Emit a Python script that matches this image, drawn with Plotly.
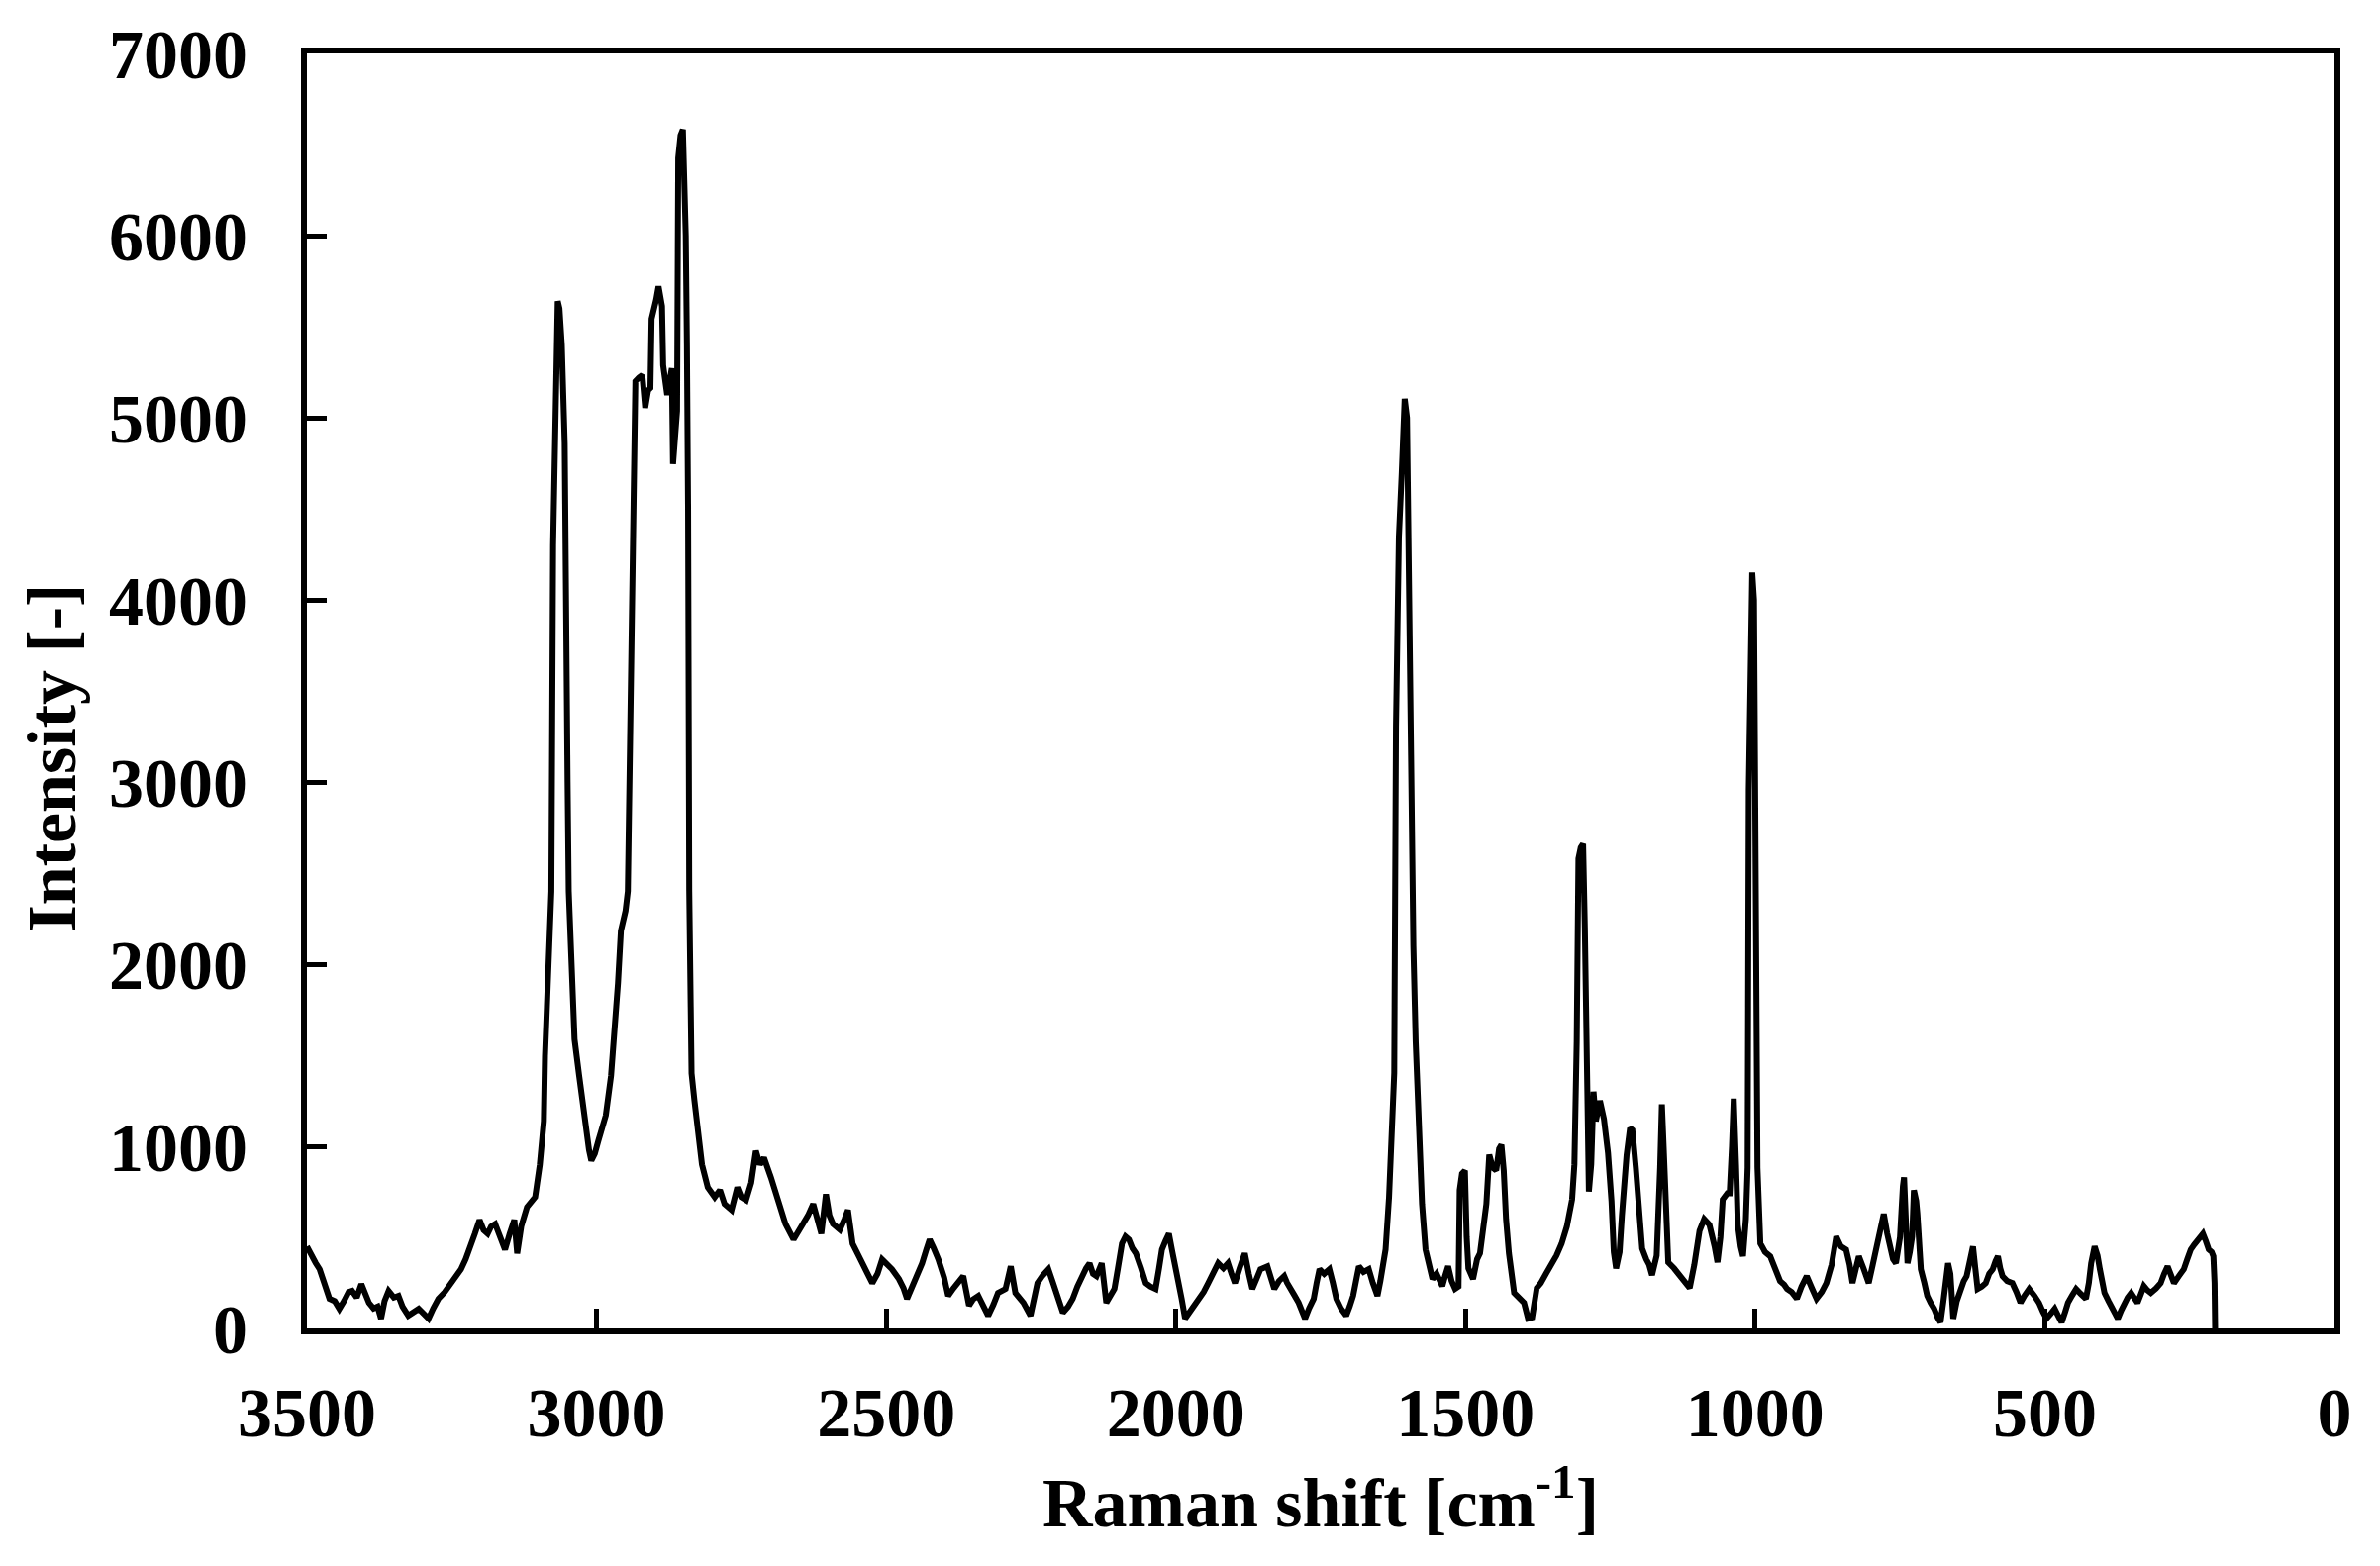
import plotly.graph_objects as go

raman_shift = [
    3500, 3493, 3485, 3478, 3470, 3461, 3452, 3444, 3436, 3428, 3422, 3414, 3406, 3400, 3393, 3385,
    3378, 3372, 3366, 3359, 3350, 3342, 3335, 3325, 3316, 3307, 3298, 3290, 3282, 3273, 3262, 3251,
    3242, 3234, 3226, 3217, 3210, 3202, 3195, 3188, 3182, 3175, 3166, 3158, 3150, 3142, 3137, 3130,
    3120, 3113, 3106, 3098, 3094, 3091, 3089, 3086, 3083, 3080, 3078, 3075, 3071, 3067, 3064, 3060,
    3055, 3052, 3050, 3048, 3043, 3038, 3030, 3023, 3018, 3013, 3009, 3003, 2997, 2990, 2984, 2975,
    2970, 2963, 2958, 2950, 2946, 2942, 2938, 2936, 2933, 2927, 2921, 2916, 2911, 2907, 2905, 2897,
    2893, 2887, 2885, 2878, 2873, 2870, 2868, 2864, 2861, 2859, 2855, 2851, 2846, 2844, 2842, 2840,
    2839, 2836, 2831, 2825, 2818, 2808, 2796, 2787, 2779, 2767, 2757, 2750, 2742, 2733, 2725, 2718,
    2711, 2699, 2689, 2680, 2674, 2660, 2650, 2643, 2635, 2626, 2618, 2612, 2604, 2598, 2592, 2580,
    2572, 2566, 2558, 2550, 2541, 2532, 2524, 2515, 2507, 2498, 2490, 2478, 2470, 2464, 2456, 2450,
    2438, 2431, 2425, 2418, 2410, 2400, 2393, 2384, 2376, 2367, 2357, 2350, 2341, 2333, 2324, 2315,
    2307, 2294, 2285, 2277, 2270, 2263, 2251, 2245, 2239, 2230, 2220, 2212, 2205, 2195, 2186, 2178,
    2170, 2163, 2155, 2149, 2143, 2137, 2128, 2120, 2113, 2106, 2100, 2093, 2087, 2081, 2075, 2069,
    2060, 2052, 2044, 2035, 2029, 2024, 2018, 2012, 2006, 2001, 1995, 1990, 1984, 1978, 1973, 1961,
    1952, 1944, 1935, 1927, 1918, 1910, 1904, 1898, 1890, 1881, 1874, 1868, 1861, 1854, 1842, 1836,
    1830, 1822, 1813, 1808, 1803, 1795, 1788, 1783, 1777, 1770, 1762, 1757, 1752, 1744, 1735, 1729,
    1723, 1715, 1706, 1700, 1694, 1689, 1684, 1676, 1667, 1660, 1652, 1647, 1643, 1638, 1632, 1627,
    1623, 1620, 1615, 1610, 1605, 1601, 1598, 1595, 1590, 1586, 1582, 1578, 1575, 1569, 1563, 1557,
    1550, 1540, 1535, 1530, 1524, 1518, 1512, 1510, 1506, 1501, 1498, 1495, 1487, 1480, 1475, 1470,
    1464, 1459, 1453, 1447, 1442, 1438, 1434, 1430, 1425, 1416, 1408, 1399, 1392, 1385, 1377, 1370,
    1361, 1353, 1343, 1334, 1325, 1316, 1312, 1308, 1305, 1301, 1297, 1294, 1291, 1287, 1283, 1279,
    1275, 1268, 1261, 1254, 1248, 1244, 1240, 1234, 1230, 1226, 1222, 1216, 1212, 1206, 1200, 1195,
    1188, 1183, 1178, 1170, 1164, 1161, 1158, 1156, 1150, 1140, 1130, 1120, 1113, 1105, 1096, 1088,
    1079, 1070, 1065, 1060, 1056, 1048, 1044, 1040, 1037, 1033, 1030, 1025, 1021, 1016, 1013, 1011,
    1008, 1005, 1002, 999, 996, 991, 983, 974, 966, 957, 950, 945, 937, 928, 920, 911,
    902, 894, 885, 877, 868, 860, 852, 843, 837, 832, 826, 821, 813, 804, 797, 789,
    783, 778, 772, 767, 762, 757, 750, 745, 743, 740, 737, 733, 729, 726, 722, 720,
    717, 714, 708, 703, 697, 691, 685, 680, 675, 671, 667, 663, 660, 658, 652, 646,
    640, 635, 630, 624, 620, 616, 609, 602, 596, 590, 585, 581, 577, 573, 565, 556,
    549, 542, 535, 527, 518, 510, 503, 497, 490, 483, 477, 471, 465, 460, 453, 446,
    438, 429, 424, 420, 414, 409, 405, 400, 397, 390, 383, 378, 374, 368, 363, 357,
    351, 345, 340, 334, 329, 323, 317, 308, 300, 294, 288, 283, 277, 268, 260, 254,
    248, 242, 236, 231, 227, 222, 217, 212, 209, 207, 206,
]

intensity = [
    450, 400, 360, 325, 240, 163, 150, 108, 150, 200, 206, 170, 244, 190, 141, 110,
    120, 54, 150, 206, 170, 179, 120, 70, 90, 108, 80, 54, 110, 163, 200, 244,
    280, 325, 380, 450, 520, 596, 540, 520, 560, 574, 500, 433, 520, 596, 412, 560,
    666, 690, 721, 899, 1000, 1138, 1495, 1800, 2037, 2200, 2400, 4300, 5100, 5640, 5600, 5400,
    4860, 4100, 3000, 2400, 1896, 1587, 1387, 1224, 1062, 980, 921, 960, 1029, 1100, 1170, 1387,
    1587, 1896, 2183, 2292, 2400, 3300, 4134, 4800, 5200, 5220, 5234, 5055, 5150, 5163, 5543, 5650,
    5722, 5613, 5288, 5125, 5250, 5272, 4746, 4900, 5039, 6426, 6550, 6583, 6000, 5396, 4497, 2400,
    1858, 1400, 1250, 1084, 900, 775, 721, 760, 683, 650, 775, 720, 704, 800, 975, 900,
    937, 829, 737, 650, 574, 488, 540, 574, 620, 683, 600, 520, 737, 620, 574, 542,
    600, 650, 466, 420, 358, 300, 249, 300, 379, 350, 325, 271, 220, 163, 220, 271,
    358, 430, 488, 440, 379, 280, 179, 220, 249, 287, 125, 160, 179, 120, 70, 130,
    195, 217, 341, 195, 170, 141, 70, 180, 249, 290, 325, 250, 179, 87, 120, 163,
    230, 287, 330, 358, 300, 287, 358, 141, 180, 217, 330, 466, 504, 488, 440, 412,
    330, 249, 230, 217, 330, 433, 480, 520, 420, 325, 240, 163, 54, 80, 108, 163,
    200, 249, 300, 358, 330, 358, 300, 249, 330, 412, 300, 217, 270, 325, 341, 280,
    217, 260, 287, 250, 217, 180, 141, 90, 54, 110, 163, 250, 325, 300, 325, 250,
    163, 110, 70, 120, 179, 260, 341, 310, 325, 250, 179, 260, 325, 433, 721, 1046,
    1403, 3305, 4344, 4700, 5104, 5000, 4200, 2960, 2100, 1574, 1200, 1056, 683, 433, 330, 271,
    300, 233, 290, 341, 260, 217, 230, 759, 850, 867, 504, 330, 271, 380, 412, 560,
    683, 954, 883, 867, 986, 1008, 867, 600, 412, 195, 170, 141, 54, 60, 222, 249,
    300, 341, 400, 466, 560, 708, 900, 1574, 2580, 2640, 2660, 2200, 1587, 752, 900, 1300,
    1138, 1250, 1150, 964, 700, 420, 330, 420, 620, 812, 950, 1100, 1090, 883, 600, 438,
    380, 350, 293, 400, 883, 1230, 1000, 812, 363, 330, 293, 260, 222, 350, 536, 600,
    569, 450, 363, 500, 708, 742, 742, 1000, 1262, 900, 569, 450, 396, 600, 883, 2958,
    3800, 4150, 4000, 2612, 883, 466, 420, 396, 325, 260, 240, 217, 200, 163, 230, 287,
    220, 163, 200, 249, 350, 504, 450, 433, 350, 249, 330, 396, 330, 249, 350, 466,
    560, 629, 520, 433, 380, 358, 500, 780, 829, 600, 358, 420, 504, 759, 700, 629,
    450, 325, 250, 179, 140, 108, 60, 33, 150, 287, 358, 300, 120, 54, 150, 217,
    260, 287, 350, 450, 330, 217, 230, 249, 300, 325, 370, 396, 330, 287, 260, 249,
    200, 141, 180, 217, 180, 141, 90, 54, 80, 108, 70, 33, 90, 141, 180, 217,
    190, 163, 250, 358, 450, 400, 325, 250, 195, 150, 108, 80, 54, 100, 141, 170,
    195, 170, 141, 190, 233, 210, 195, 220, 249, 300, 341, 300, 249, 290, 325, 380,
    433, 460, 488, 510, 520, 480, 433, 420, 396, 249, 0,
]

x_tick_values = [3500, 3000, 2500, 2000, 1500, 1000, 500, 0]
y_tick_values = [0, 1000, 2000, 3000, 4000, 5000, 6000, 7000]

FONT = "Liberation Serif"
FONT_SIZE = 70

fig = go.Figure()
fig.add_trace(go.Scatter(
    x=raman_shift, y=intensity, mode="lines",
    line=dict(color="black", width=6),
    showlegend=False, hoverinfo="skip",
))

axis_common = dict(
    showline=True, linecolor="black", linewidth=6, mirror=True,
    ticks="inside", ticklen=20, tickwidth=5, tickcolor="black",
    showgrid=False, zeroline=False,
    tickfont=dict(family=FONT, size=FONT_SIZE, color="black", weight="bold"),
)

fig.update_layout(
    width=2404, height=1582,
    paper_bgcolor="white", plot_bgcolor="white",
    margin=dict(l=302, r=54, t=46, b=248, autoexpand=False),
    xaxis=dict(
        range=[3500, 0], tickvals=x_tick_values,
        ticklabelstandoff=19,
        title=dict(text="Raman shift [cm<sup>-1</sup>]",
                   font=dict(family=FONT, size=FONT_SIZE, color="black", weight="bold"),
                   standoff=30),
        **axis_common,
    ),
    yaxis=dict(
        range=[0, 7000], tickvals=y_tick_values,
        ticklabelstandoff=40,
        **axis_common,
    ),
    annotations=[dict(
        text="Intensity [-]", textangle=-90,
        xref="paper", yref="paper", x=-0.1256, y=0.4474,
        xanchor="center", yanchor="middle", showarrow=False,
        font=dict(family=FONT, size=FONT_SIZE, color="black", weight="bold"),
    )],
)

fig.write_html("out.html")
